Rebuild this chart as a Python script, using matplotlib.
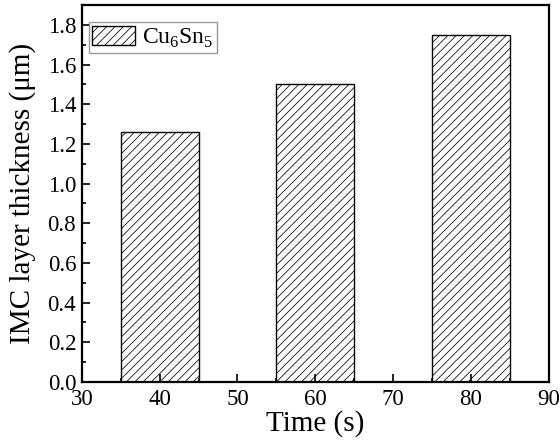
import matplotlib
matplotlib.use('Agg')
import matplotlib.pyplot as plt
from matplotlib.ticker import MultipleLocator

plt.rcParams['font.family'] = 'Liberation Serif'
plt.rcParams['mathtext.fontset'] = 'custom'
plt.rcParams['mathtext.rm'] = 'Liberation Serif'
plt.rcParams['hatch.linewidth'] = 0.55

# datos
tiempo = [40, 60, 80]
espesor = [1.26, 1.50, 1.75]
etiqueta = 'Cu$_6$Sn$_5$'

fig = plt.figure(figsize=(5.6, 4.46), dpi=100)
ax = fig.add_axes([0.146, 0.1435, 0.834, 0.845])

ax.bar(tiempo, espesor, width=10, color='white', edgecolor='black',
       hatch='////', linewidth=1.0, label=etiqueta)

ax.set_xlim(30, 90)
ax.set_ylim(0, 1.9)
ax.xaxis.set_major_locator(MultipleLocator(10))
ax.xaxis.set_minor_locator(MultipleLocator(5))
ax.yaxis.set_minor_locator(MultipleLocator(0.1))
ax.set_yticks([0, 0.2, 0.4, 0.6, 0.8, 1.0, 1.2, 1.4, 1.6, 1.8])
ax.yaxis.set_major_formatter(plt.FuncFormatter(lambda v, p: f'{v:.1f}'))
ax.tick_params(which='both', direction='in', labelsize=16.5, width=1.2)
ax.tick_params(which='major', length=6)
ax.tick_params(which='minor', length=3)
ax.tick_params(axis='y', pad=4)
ax.tick_params(axis='x', pad=5)
for s in ax.spines.values():
    s.set_linewidth(1.6)

ax.set_xlabel('Time (s)', fontsize=21, labelpad=0)
ax.set_ylabel('IMC layer thickness (μm)', fontsize=21, labelpad=8)

leg = ax.legend(loc='upper left', bbox_to_anchor=(0.015, 0.955), fontsize=17,
                fancybox=False, edgecolor='gray',
                handlelength=1.8, handleheight=0.9, borderpad=0.15,
                handletextpad=0.3, borderaxespad=0.0)
leg.get_frame().set_linewidth(1.0)

plt.savefig('out.png', dpi=100)
